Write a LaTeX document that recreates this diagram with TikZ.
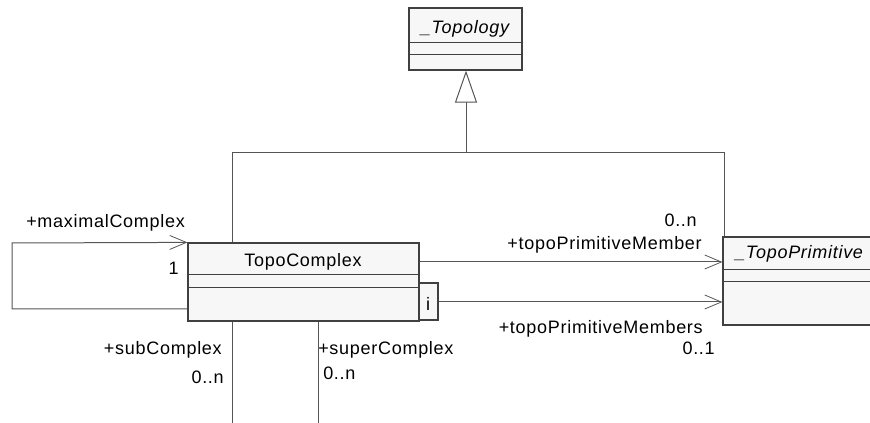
\documentclass[tikz,border=0pt]{standalone}
\usepackage{fontspec}
\setmainfont{Liberation Sans}[LetterSpace=4]
\usetikzlibrary{arrows.meta,fit}
\definecolor{boxfill}{HTML}{F7F7F7}
\definecolor{boxline}{HTML}{404040}
\definecolor{wire}{HTML}{555555}
\begin{document}
\begin{tikzpicture}[x=0.75pt,y=-0.75pt,
  classbox/.style={draw=boxline, fill=boxfill, inner sep=0pt, line width=0.9pt},
  compart/.style={draw=boxline, line width=0.7pt},
  assoc/.style={draw=wire, line width=0.75pt},
  nav/.style={assoc, -{Straight Barb[length=12.5pt,width=10.5pt,line width=0.6pt]}},
  inherit/.style={assoc, -{Triangle[open,length=24pt,width=16.5pt,fill=white]}},
  lbl/.style={font=\fontsize{13.5}{16}\selectfont, inner sep=0pt},
]
\clip (0,0) rectangle (870,423);

% class boxes
\node[classbox, fit={(409,8) (522,70)}] (topo) {};
\draw[compart] (409,42) -- (522,42) (409,54) -- (522,54);
\node[lbl, anchor=base, font=\fontsize{13.5}{16}\selectfont\itshape] at (465,34) {\_Topology};

\node[classbox, fit={(188,243) (419,321)}] (tc) {};
\draw[compart] (188,274) -- (419,274) (188,287) -- (419,287);
\node[lbl, anchor=base] at (303,267) {TopoComplex};

\node[classbox, fit={(419,283) (438,320)}] (ib) {};
\node[lbl, anchor=base] at (428,311) {i};

\node[classbox, fit={(723,237) (890,325)}] (tp) {};
\draw[compart] (723,269) -- (890,269) (723,281) -- (890,281);
\node[lbl, anchor=base west, font=\fontsize{13.5}{16}\selectfont\itshape] at (735,259) {\_TopoPrimitive};

% routing points
\coordinate (j1) at (232,153);
\coordinate (j2) at (724,153);
\coordinate (jm) at (466,153);
\coordinate (lp1) at (12,309);
\coordinate (lp2) at (12,243);
\coordinate (r1) at (600,262);
\coordinate (r2) at (600,302);
\coordinate (b1) at (232,423);
\coordinate (b2) at (318,423);

% generalization
\draw[assoc] (tc.north -| j1) -- (j1) -- (j2) -- (tp.north -| j2);
\draw[inherit] (jm) -- (topo.south -| jm);

% self association
\draw[nav] (tc.west |- lp1) -- (lp1) -- (lp2) -- (tc.north west);

% associations to _TopoPrimitive
\draw[nav] (tc.east |- r1) -- (tp.west |- r1);
\draw[nav] (ib.east |- r2) -- (tp.west |- r2);

% sub / super complex ends
\draw[assoc] (tc.south -| b1) -- (b1);
\draw[assoc] (tc.south -| b2) -- (b2);

% role names and multiplicities
\node[lbl, anchor=base west] at (26,228) {+maximalComplex};
\node[lbl, anchor=base east] at (179,275) {1};
\node[lbl, anchor=base east] at (697,227) {0..n};
\node[lbl, anchor=base east] at (702,250) {+topoPrimitiveMember};
\node[lbl, anchor=base east] at (703,334) {+topoPrimitiveMembers};
\node[lbl, anchor=base east] at (715,355) {0..1};
\node[lbl, anchor=base east] at (222,355) {+subComplex};
\node[lbl, anchor=base east] at (224,383) {0..n};
\node[lbl, anchor=base west] at (318,355) {+superComplex};
\node[lbl, anchor=base west] at (323,380) {0..n};
\end{tikzpicture}
\end{document}
